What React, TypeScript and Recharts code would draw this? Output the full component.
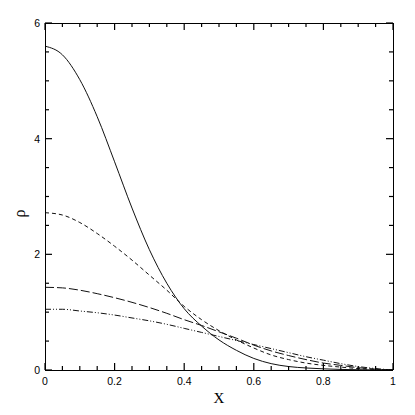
// density profiles, four curves in a framed box with inward ticks

import { LineChart, Line, XAxis, YAxis } from "recharts";

const xValues = [0, 0.05, 0.1, 0.15, 0.2, 0.25, 0.3, 0.35, 0.4, 0.45, 0.5, 0.55, 0.6, 0.65, 0.7, 0.75, 0.8, 0.85, 0.9, 0.95, 1];

const solid = [5.6, 5.45, 5.02, 4.38, 3.6, 2.8, 2.08, 1.5, 1.06, 0.76, 0.52, 0.34, 0.2, 0.11, 0.06, 0.035, 0.02, 0.01, 0.005, 0.002, 0];
const dashed = [2.72, 2.68, 2.55, 2.36, 2.14, 1.9, 1.64, 1.38, 1.1, 0.87, 0.68, 0.52, 0.38, 0.26, 0.18, 0.12, 0.08, 0.05, 0.025, 0.01, 0];
const longDash = [1.43, 1.42, 1.38, 1.32, 1.25, 1.17, 1.08, 0.98, 0.87, 0.77, 0.66, 0.55, 0.43, 0.33, 0.25, 0.18, 0.12, 0.08, 0.04, 0.015, 0];
const dashDot = [1.05, 1.05, 1.02, 0.99, 0.95, 0.9, 0.85, 0.79, 0.72, 0.65, 0.58, 0.51, 0.44, 0.37, 0.3, 0.23, 0.17, 0.11, 0.06, 0.025, 0];

const xTicks = [0, 0.05, 0.1, 0.15, 0.2, 0.25, 0.3, 0.35, 0.4, 0.45, 0.5, 0.55, 0.6, 0.65, 0.7, 0.75, 0.8, 0.85, 0.9, 0.95, 1];
const xMajor = [0, 0.2, 0.4, 0.6, 0.8, 1];
const xLabels = ["0", "0.2", "0.4", "0.6", "0.8", "1"];
const yTicks = [0, 0.5, 1, 1.5, 2, 2.5, 3, 3.5, 4, 4.5, 5, 5.5, 6];
const yMajor = [0, 2, 4, 6];
const yLabels = ["0", "2", "4", "6"];

const rows = xValues.map((x, i) => ({
  x,
  a: solid[i],
  b: dashed[i],
  c: longDash[i],
  d: dashDot[i],
}));

const TICK_FONT = "'Liberation Sans', Arial, sans-serif";
const SERIF = "'Liberation Serif', 'Times New Roman', serif";

const majorIndex = (list: number[], v: number) =>
  list.findIndex((m) => Math.abs(m - v) < 1e-6);

// side: which edge of the box; ticks always point into the plot
function makeTick(side: "bottom" | "top" | "left" | "right") {
  return (props: any) => {
    const { x, y, payload } = props;
    const v = payload.value;
    const horiz = side === "bottom" || side === "top";
    const idx = majorIndex(horiz ? xMajor : yMajor, v);
    const len = idx >= 0 ? 7 : 4;
    let d = "";
    if (side === "bottom") d = `M${x},${y}V${y - len}`;
    else if (side === "top") d = `M${x},${y}V${y + len}`;
    else if (side === "left") d = `M${x},${y}H${x + len}`;
    else d = `M${x},${y}H${x - len}`;
    let label = null;
    if (idx >= 0 && side === "bottom") {
      label = (
        <text x={x} y={y + 15} textAnchor="middle" fontSize={10.5} fontFamily={TICK_FONT} fill="#000">
          {xLabels[idx]}
        </text>
      );
    } else if (idx >= 0 && side === "left") {
      label = (
        <text x={x - 5} y={y + 4} textAnchor="end" fontSize={10.5} fontFamily={TICK_FONT} fill="#000">
          {yLabels[idx]}
        </text>
      );
    }
    return (
      <g>
        <path d={d} stroke="#000" strokeWidth={1.2} fill="none" />
        {label}
      </g>
    );
  };
}

const XLabel = (props: any) => {
  const vb = props.viewBox;
  return (
    <text x={vb.x + vb.width / 2} y={vb.y + 33} textAnchor="middle" fontSize={15} fontFamily={SERIF} fill="#000">
      X
    </text>
  );
};

const RhoLabel = (props: any) => {
  const vb = props.viewBox;
  const cx = vb.x + 11;
  const cy = vb.y + vb.height / 2 + 17;
  return (
    <text x={cx} y={cy} transform={`rotate(-90 ${cx} ${cy})`} textAnchor="middle" dominantBaseline="central" fontSize={16} fontFamily={SERIF} fill="#000">
      ρ
    </text>
  );
};

const frame = { stroke: "#000", shapeRendering: "crispEdges" } as any;

export default function App() {
  return (
    <LineChart width={400} height={400} data={rows} margin={{ top: 14, right: 14, bottom: 0, left: 0 }}>
      <XAxis
        dataKey="x"
        type="number"
        domain={[0, 1]}
        ticks={xTicks}
        interval={0}
        height={38}
        tickSize={0}
        tickMargin={0}
        tickLine={false}
        axisLine={frame}
        tick={makeTick("bottom")}
        label={<XLabel />}
      />
      <XAxis
        xAxisId="top"
        orientation="top"
        dataKey="x"
        type="number"
        domain={[0, 1]}
        ticks={xTicks}
        interval={0}
        height={1}
        tickSize={0}
        tickMargin={0}
        tickLine={false}
        axisLine={frame}
        tick={makeTick("top")}
      />
      <YAxis
        type="number"
        domain={[0, 6]}
        ticks={yTicks}
        interval={0}
        width={37}
        tickSize={0}
        tickMargin={0}
        tickLine={false}
        axisLine={frame}
        tick={makeTick("left")}
        label={<RhoLabel />}
      />
      <YAxis
        yAxisId="right"
        orientation="right"
        type="number"
        domain={[0, 6]}
        ticks={yTicks}
        interval={0}
        width={1}
        tickSize={0}
        tickMargin={0}
        tickLine={false}
        axisLine={frame}
        tick={makeTick("right")}
      />
      <Line type="monotone" dataKey="a" stroke="#111" strokeWidth={1} dot={false} isAnimationActive={false} />
      <Line type="monotone" dataKey="b" stroke="#111" strokeWidth={1} strokeDasharray="4 3" dot={false} isAnimationActive={false} />
      <Line type="monotone" dataKey="c" stroke="#111" strokeWidth={1} strokeDasharray="9 3" dot={false} isAnimationActive={false} />
      <Line xAxisId="top" yAxisId="right" type="monotone" dataKey="d" stroke="#111" strokeWidth={1} strokeDasharray="6 2 1 2 1 2" dot={false} isAnimationActive={false} />
    </LineChart>
  );
}
